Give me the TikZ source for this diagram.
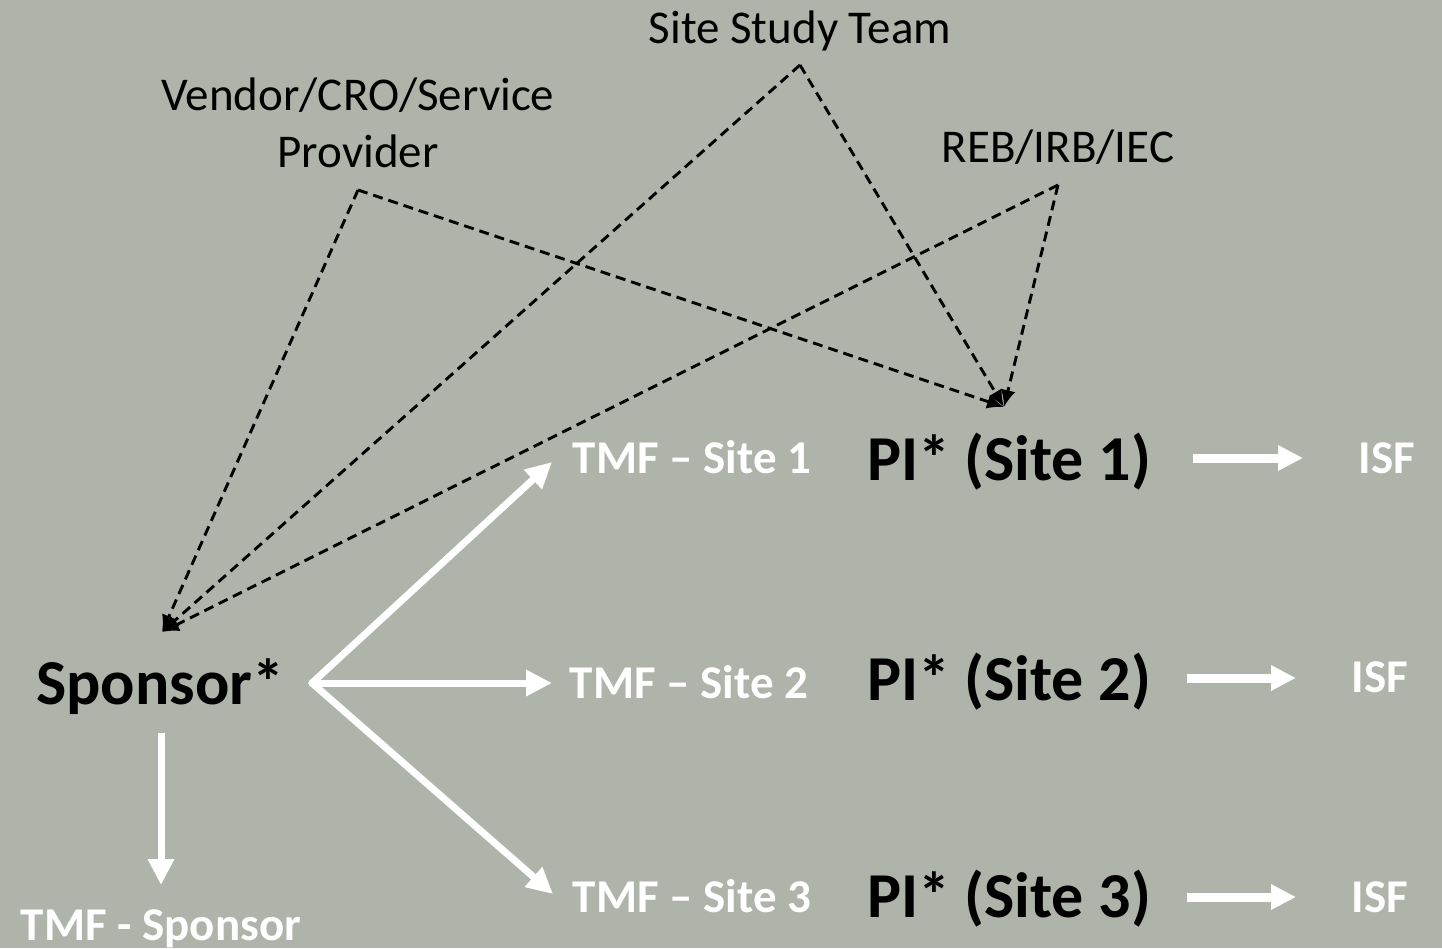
\documentclass[tikz,border=0pt]{standalone}
\usepackage{fontspec}
\setmainfont{Carlito}
\usetikzlibrary{arrows.meta}
\definecolor{bg}{RGB}{175,180,170}
\begin{document}
\begin{tikzpicture}[x=1pt,y=-1pt,
  big/.style={font=\fontsize{64}{70}\selectfont\bfseries, text=black, inner sep=0pt, anchor=base},
  tmf/.style={font=\fontsize{47}{52}\selectfont\bfseries, text=white, inner sep=0pt, anchor=base},
  role/.style={font=\fontsize{47}{57}\selectfont, text=black, inner sep=0pt, align=center, anchor=base},
  dlink/.style={draw=black, line width=2.9pt, dash pattern=on 10pt off 6pt, -{Latex[length=17pt,width=15pt]}},
  wlink/.style={draw=white, line width=7pt, -{Triangle[length=26pt,width=25pt]}},
  wshort/.style={draw=white, line width=9pt, -{Triangle[length=25pt,width=24pt]}},
]
\fill[bg] (0,0) rectangle (1442,948);
\useasboundingbox (0,0) rectangle (1442,948);

% roles above
\node[role] (team) at (800,43) {Site Study Team};
\node[role] (vendor) at (358,167) {Vendor/CRO/Service\\Provider};
\node[role] (reb) at (1058,162) {REB/IRB/IEC};

% main parties
\node[big] (sponsor) at (160,704) {Sponsor*};
\node[big] (pi1) at (1009,480) {PI* (Site 1)};
\node[big] (pi2) at (1009,700) {PI* (Site 2)};
\node[big] (pi3) at (1009,917) {PI* (Site 3)};

% files
\node[tmf] (tmf1) at (692,473) {TMF – Site 1};
\node[tmf] (tmf2) at (689,698) {TMF – Site 2};
\node[tmf] (tmf3) at (692,912) {TMF – Site 3};
\node[tmf] (isf1) at (1387,473) {ISF};
\node[tmf] (isf2) at (1380,692) {ISF};
\node[tmf] (isf3) at (1380,912) {ISF};
\node[tmf] (tmfs) at (161,940) {TMF - Sponsor};

% connector ends
\coordinate (teamP) at (800,65);
\coordinate (vendorP) at (358,190);
\coordinate (rebP) at (1058,185);
\coordinate (spIn) at (162,632);
\coordinate (piIn) at (1004,407);
\coordinate (hub) at (312,683);
\coordinate (t1) at (552,462);
\coordinate (t2) at (552,683);
\coordinate (t3) at (553,894);
\coordinate (sDown0) at (161,733);
\coordinate (sDown1) at (161,885);
\coordinate (a1s) at (1193,458);
\coordinate (a1e) at (1303,458);
\coordinate (a2s) at (1187,678);
\coordinate (a2e) at (1296,678);
\coordinate (a3s) at (1187,897);
\coordinate (a3e) at (1296,897);

% dashed relations
\draw[dlink] (vendorP) -- (spIn);
\draw[dlink] (teamP) -- (spIn);
\draw[dlink] (rebP) -- (spIn);
\draw[dlink] (vendorP) -- (piIn);
\draw[dlink] (teamP) -- (piIn);
\draw[dlink] (rebP) -- (piIn);

% sponsor to site files
\draw[wlink, line cap=round] (hub) -- (t1);
\draw[wlink, line cap=round] (hub) -- (t2);
\draw[wlink, line cap=round] (hub) -- (t3);
\draw[wlink] (sDown0) -- (sDown1);

% PI to ISF
\draw[wshort] (a1s) -- (a1e);
\draw[wshort] (a2s) -- (a2e);
\draw[wshort] (a3s) -- (a3e);
\end{tikzpicture}
\end{document}
